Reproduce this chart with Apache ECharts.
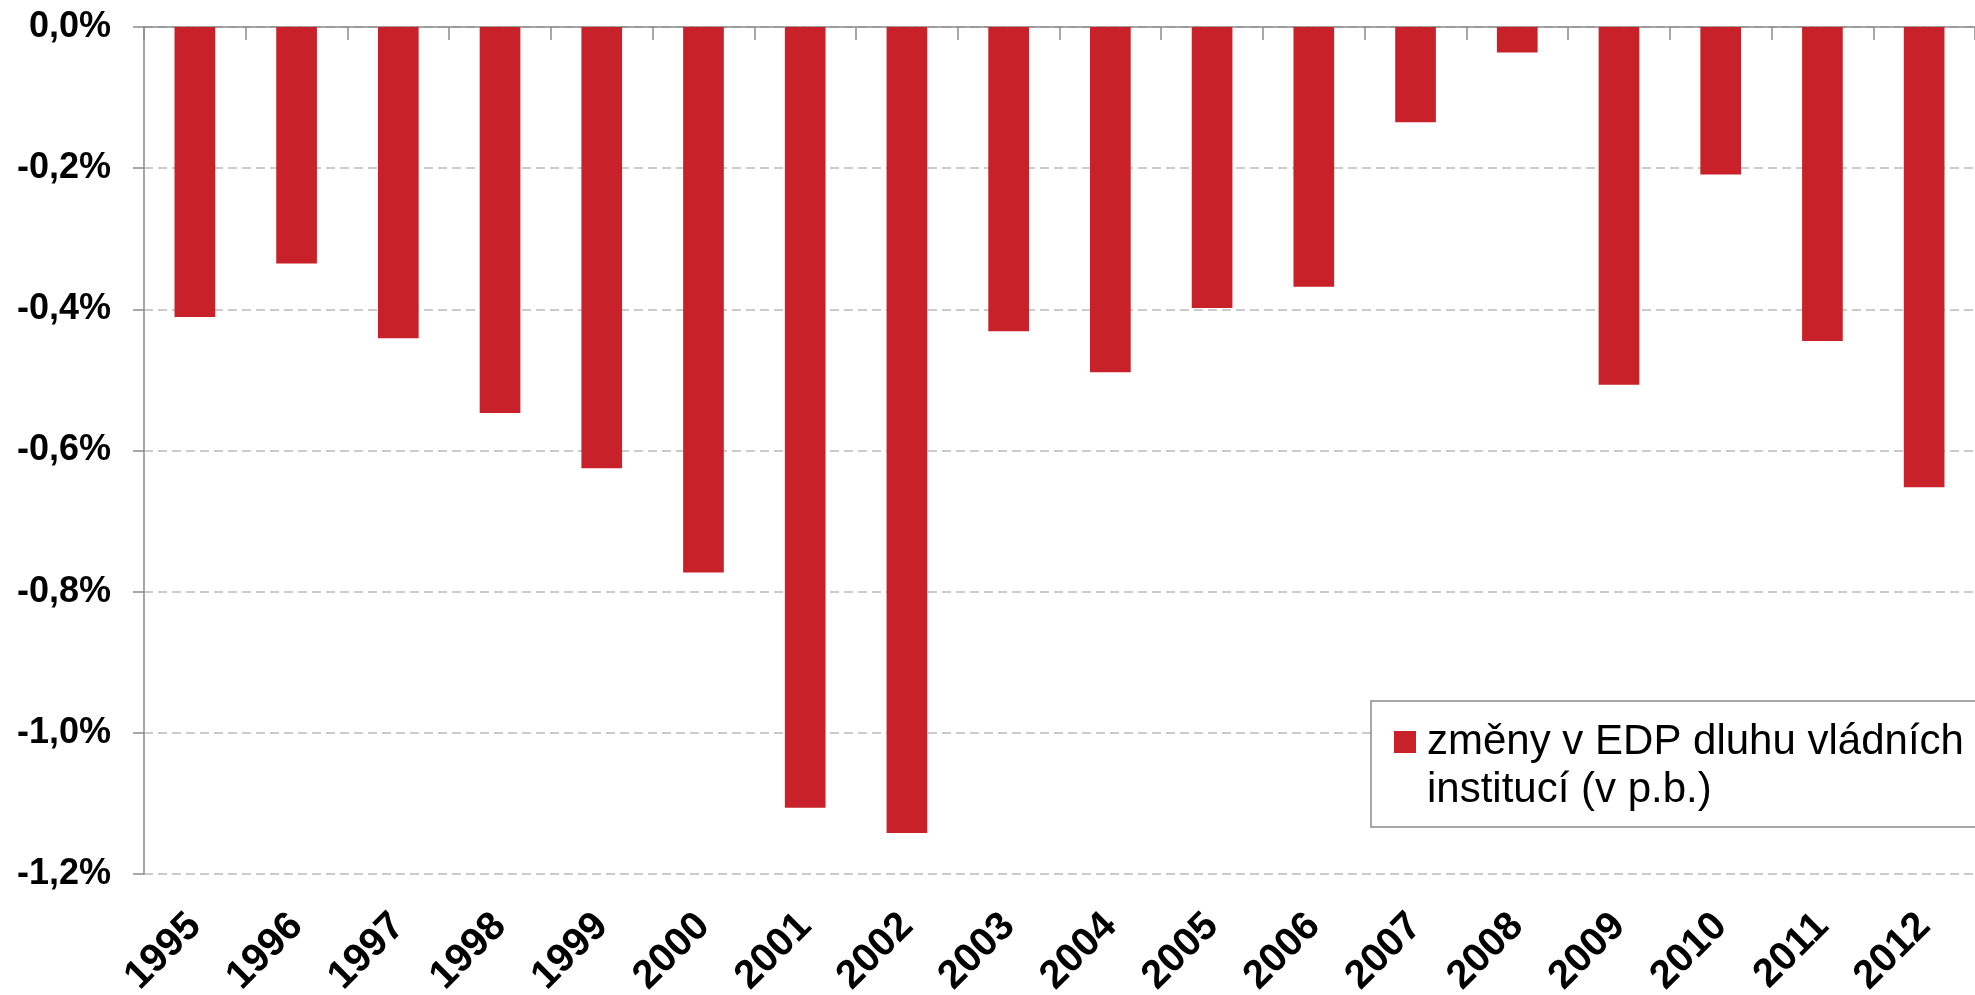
<!DOCTYPE html>
<html>
<head>
<meta charset="utf-8">
<script src="https://cdn.jsdelivr.net/npm/echarts@6/dist/echarts.min.js"></script>
<style>
  html, body { margin: 0; padding: 0; background: #fff; }
  #main { width: 1975px; height: 995px; }
</style>
</head>
<body>
<div id="main"></div>
<script>
var chartDom = document.getElementById('main');
var myChart = echarts.init(chartDom);
var option;

// data (percentage points)
const years = ['1995', '1996', '1997', '1998', '1999', '2000', '2001', '2002', '2003',
  '2004', '2005', '2006', '2007', '2008', '2009', '2010', '2011', '2012'];
const debtChange = [-0.411, -0.335, -0.441, -0.547, -0.625, -0.773, -1.106, -1.142, -0.431,
  -0.489, -0.398, -0.368, -0.135, -0.036, -0.507, -0.209, -0.445, -0.652];
const seriesName = 'změny v EDP dluhu vládních institucí (v p.b.)';
const legendLines = ['změny v EDP dluhu vládních', 'institucí (v p.b.)'];

const barColor = '#c9212a';
const axisColor = '#8a8a8a';
const FONT = "'Liberation Sans', Arial, sans-serif";

function pctLabel(v) {
  return v.toFixed(1).replace('.', ',').replace('-0,0', '0,0') + '%';
}

option = {
  animation: false,
  backgroundColor: '#fff',
  grid: {
    left: 144,
    right: 0,
    top: 27,
    bottom: 121,
    outerBoundsMode: 'none'
  },
  legend: {
    data: [seriesName],
    left: 1371,
    top: 701,
    orient: 'vertical',
    padding: [17, 100, 13, 23],
    backgroundColor: '#fff',
    borderColor: axisColor,
    borderWidth: 1.5,
    borderRadius: 0,
    itemWidth: 22,
    itemHeight: 96,
    // square sits at the height of the first text line
    icon: 'path://M0,13L22,13L22,35L0,35Z M0,0L0.01,0 M0,96L0.01,96',
    formatter: function () { return legendLines.join('\n'); },
    textStyle: {
      fontFamily: FONT,
      fontSize: 42,
      lineHeight: 48,
      color: '#000',
      padding: [0, 0, 0, 6]
    },
    selectedMode: false
  },
  xAxis: [
    {
      type: 'category',
      data: years,
      axisLine: { onZero: true, lineStyle: { color: axisColor, width: 1.5 } },
      axisTick: { show: true, length: 13, lineStyle: { color: axisColor, width: 1.5 } },
      axisLabel: { show: false },
      splitLine: { show: false }
    },
    {
      type: 'category',
      data: years,
      position: 'bottom',
      axisLine: { show: false, onZero: false },
      axisTick: { show: false },
      splitLine: { show: false },
      axisLabel: {
        interval: 0,
        rotate: 45,
        margin: 46,
        padding: [44, 0, 0, 0],
        fontFamily: FONT,
        fontWeight: 'bold',
        fontSize: 40,
        color: '#000'
      }
    }
  ],
  yAxis: {
    type: 'value',
    min: -1.2,
    max: 0,
    interval: 0.2,
    axisLine: { show: true, lineStyle: { color: axisColor, width: 1.5 } },
    axisTick: { show: true, length: 11, lineStyle: { color: axisColor, width: 1.5 } },
    axisLabel: {
      margin: 33,
      fontFamily: FONT,
      fontWeight: 'bold',
      fontSize: 36,
      color: '#000',
      formatter: pctLabel
    },
    splitLine: {
      show: true,
      lineStyle: { color: '#bbbbbb', width: 1.5, type: [9, 5] }
    }
  },
  series: [
    {
      name: seriesName,
      type: 'bar',
      xAxisIndex: 0,
      data: debtChange,
      barWidth: '40%',
      itemStyle: { color: barColor }
    }
  ]
};

option && myChart.setOption(option);
</script>
</body>
</html>
